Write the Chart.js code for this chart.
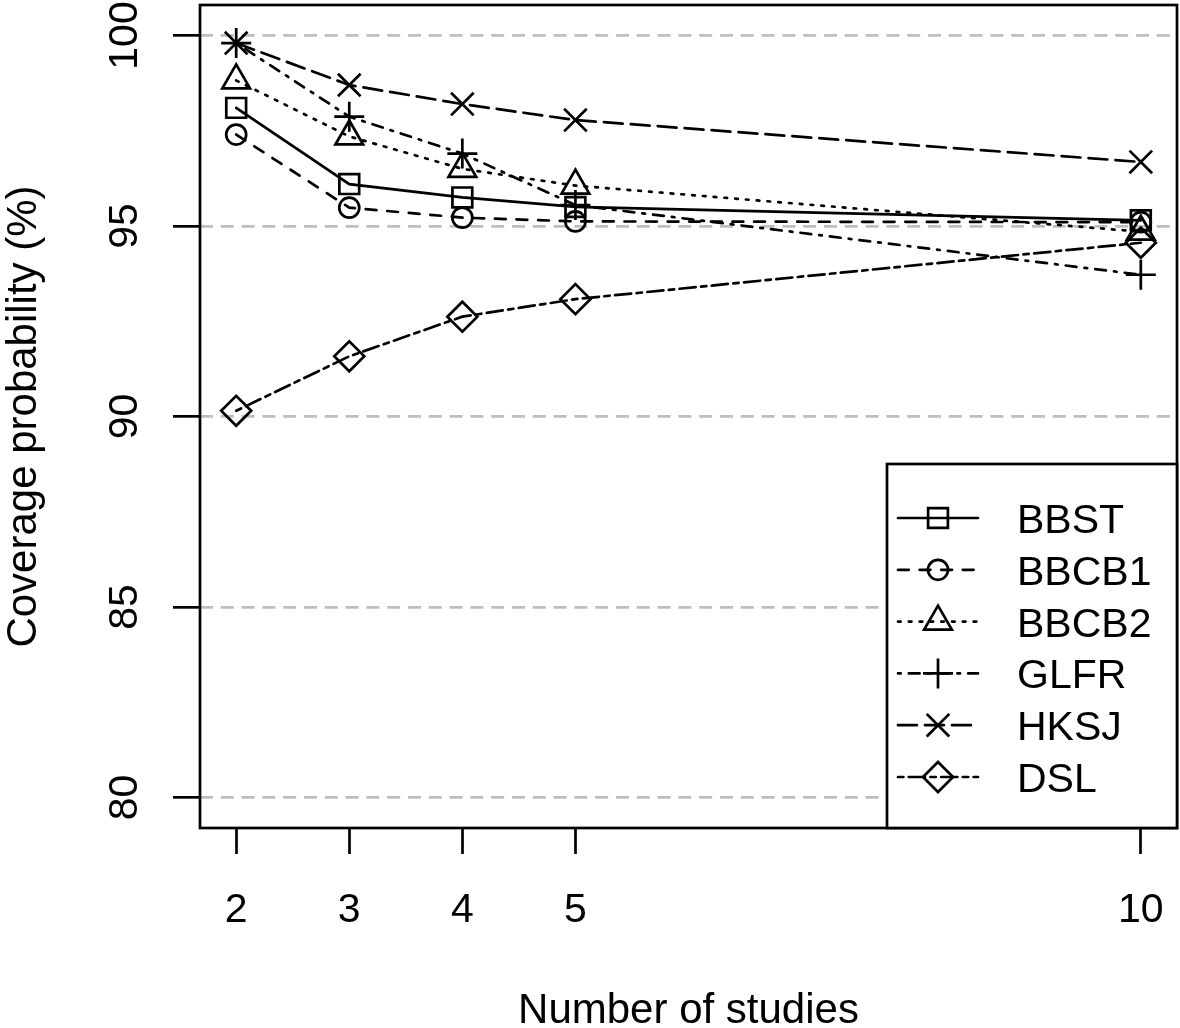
<!DOCTYPE html>
<html lang="en">
<head>
    <meta charset="UTF-8">
    <title>Coverage probability</title>
    <script src="https://cdn.jsdelivr.net/npm/chart.js"></script>
    <style>
        html, body { margin: 0; padding: 0; background: #fff; }
    </style>
</head>
<body>
    <canvas id="coverageChart" width="1180" height="1028"></canvas>

    <script>
        // data
        var studies = [2, 3, 4, 5, 10];
        var bbst  = [98.1, 96.1, 95.75, 95.5, 95.15];
        var bbcb1 = [97.4, 95.48, 95.22, 95.12, 95.1];
        var bbcb2 = [98.82, 97.35, 96.5, 96.06, 94.85];
        var glfr  = [99.8, 97.87, 96.9, 95.55, 93.72];
        var hksj  = [99.8, 98.7, 98.2, 97.78, 96.68];
        var dsl   = [90.15, 91.58, 92.62, 93.08, 94.56];
        var methods = ['BBST', 'BBCB1', 'BBCB2', 'GLFR', 'HKSJ', 'DSL'];
        var xTicks = [2, 3, 4, 5, 10];
        var yTicks = [80, 85, 90, 95, 100];
        var xTitle = 'Number of studies';
        var yTitle = 'Coverage probability (%)';

        // R-like look
        var LW = 2.7;
        var FONT = "'Liberation Sans', Arial, sans-serif";
        var series = [bbst, bbcb1, bbcb2, glfr, hksj, dsl];
        var shapes = ['rect', 'circle', 'triangle', 'cross', 'crossRot', 'rectRot'];
        var radii = [14, 10, 16, 15, 16, 15];
        var ltys = [[], [4, 4], [1, 3], [1, 3, 4, 3], [7, 3], [2, 2, 6, 2]];
        function dash(i) { return ltys[i].map(function (d) { return d * LW; }); }

        var datasets = methods.map(function (name, i) {
            return {
                label: name,
                data: studies.map(function (s, j) { return { x: s, y: series[i][j] }; }),
                borderColor: '#000',
                borderWidth: LW,
                borderDash: dash(i),
                borderCapStyle: 'round',
                tension: 0,
                fill: false,
                pointStyle: shapes[i],
                pointRadius: radii[i],
                pointBorderWidth: LW,
                pointBorderColor: '#000',
                pointBackgroundColor: 'rgba(0,0,0,0)'
            };
        });

        var rPlot = {
            id: 'rPlot',
            afterDraw: function (chart) {
                var ctx = chart.ctx, a = chart.chartArea;
                var xs = chart.scales.x, ys = chart.scales.y;
                ctx.save();
                ctx.setLineDash([]);
                ctx.strokeStyle = '#000';
                ctx.lineWidth = LW;
                ctx.strokeRect(a.left, a.top, a.right - a.left, a.bottom - a.top);

                ctx.fillStyle = '#000';
                ctx.font = '41px ' + FONT;
                ctx.textAlign = 'center';
                ctx.textBaseline = 'alphabetic';
                xTicks.forEach(function (t) {
                    ctx.fillText(String(t), xs.getPixelForValue(t), 922);
                });
                yTicks.forEach(function (t) {
                    ctx.save();
                    ctx.translate(137, ys.getPixelForValue(t));
                    ctx.rotate(-Math.PI / 2);
                    ctx.fillText(String(t), 0, 0);
                    ctx.restore();
                });

                ctx.font = '42px ' + FONT;
                ctx.fillText(xTitle, (a.left + a.right) / 2, 1023);
                ctx.save();
                ctx.translate(36, (a.top + a.bottom) / 2);
                ctx.rotate(-Math.PI / 2);
                ctx.fillText(yTitle, 0, 0);
                ctx.restore();

                // legend box
                var bx = 887, by = 464;
                ctx.fillStyle = '#fff';
                ctx.fillRect(bx, by, a.right - bx, a.bottom - by);
                ctx.strokeRect(bx, by, a.right - bx, a.bottom - by);
                methods.forEach(function (name, i) {
                    var yy = 518 + i * 51.8;
                    ctx.save();
                    ctx.lineCap = 'round';
                    ctx.setLineDash(dash(i));
                    ctx.beginPath();
                    ctx.moveTo(898, yy);
                    ctx.lineTo(978, yy);
                    ctx.stroke();
                    ctx.restore();
                    ctx.save();
                    ctx.setLineDash([]);
                    ctx.fillStyle = 'rgba(0,0,0,0)';
                    ctx.strokeStyle = '#000';
                    ctx.lineWidth = LW;
                    Chart.helpers.drawPoint(ctx, {
                        pointStyle: shapes[i], radius: radii[i], rotation: 0, borderWidth: LW
                    }, 938, yy);
                    ctx.restore();
                    ctx.fillStyle = '#000';
                    ctx.textAlign = 'left';
                    ctx.font = '41px ' + FONT;
                    ctx.fillText(name, 1017, yy + 15);
                });
                ctx.restore();
            }
        };

        new Chart(document.getElementById('coverageChart'), {
            type: 'line',
            data: { datasets: datasets },
            plugins: [rPlot],
            options: {
                responsive: false,
                devicePixelRatio: 1,
                animation: false,
                layout: { autoPadding: false, padding: { left: 0, top: 5, right: 3, bottom: 0 } },
                plugins: { legend: { display: false }, tooltip: { enabled: false } },
                scales: {
                    x: {
                        type: 'linear',
                        min: 1.68,
                        max: 10.32,
                        afterBuildTicks: function (s) { s.ticks = xTicks.map(function (v) { return { value: v }; }); },
                        afterFit: function (s) { s.height = 200; },
                        ticks: { display: false },
                        border: { display: false },
                        grid: {
                            drawOnChartArea: false,
                            drawTicks: true,
                            tickLength: 26,
                            tickColor: '#000',
                            tickWidth: LW
                        }
                    },
                    y: {
                        type: 'linear',
                        min: 79.2,
                        max: 100.8,
                        afterBuildTicks: function (s) { s.ticks = yTicks.map(function (v) { return { value: v }; }); },
                        afterFit: function (s) { s.width = 200; },
                        ticks: { display: false },
                        border: { display: false, dash: [13, 7.8] },
                        grid: {
                            color: '#bebebe',
                            lineWidth: LW,
                            drawTicks: true,
                            tickLength: 27,
                            tickColor: '#000',
                            tickWidth: LW,
                            tickBorderDash: []
                        }
                    }
                }
            }
        });
    </script>
</body>
</html>
